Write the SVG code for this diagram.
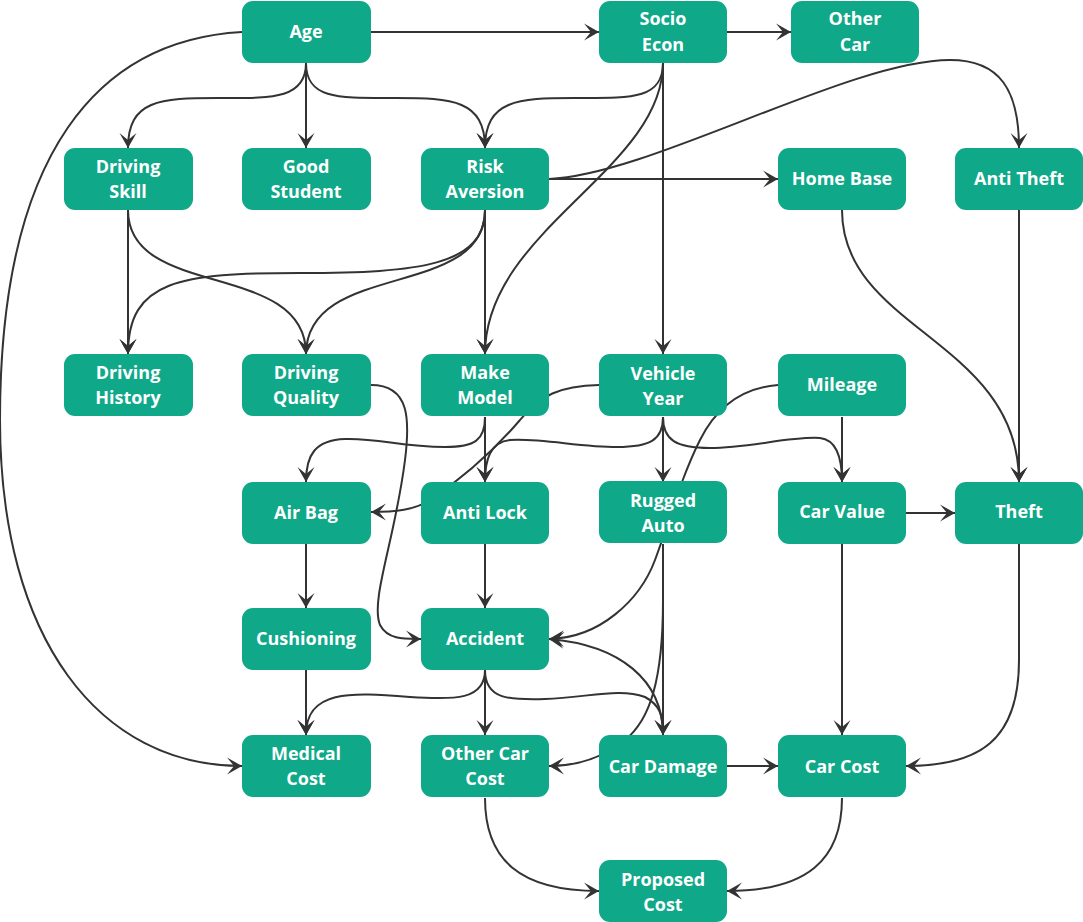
<svg xmlns="http://www.w3.org/2000/svg" width="1083" height="922" viewBox="0 0 1083 922">
<style>
.n rect{fill:#0fa888;}
.n text{fill:#ffffff;font-family:"Open Sans","Liberation Sans",sans-serif;font-weight:bold;font-size:18px;text-anchor:middle;}
.c path{fill:none;stroke:#333333;stroke-width:2;}
</style>
<defs>
<marker id="arr" markerWidth="16" markerHeight="18" refX="15" refY="9" orient="auto" markerUnits="userSpaceOnUse" viewBox="0 0 16 18">
<path d="M0,0.5 L15,9 L0,17.5 L7,9 Z" fill="#333333"/>
</marker>
</defs>
<rect width="1083" height="922" fill="#ffffff"/>
<g id="connectors" class="c" marker-end="url(#arr)">
<path d="M371,32 L599,32" marker-end="url(#arr)"/>
<path d="M727,32 L791,32" marker-end="url(#arr)"/>
<path d="M306,63 C306,100 270,98 218,98 C160,98 128,100 128,148" marker-end="url(#arr)"/>
<path d="M306,63 L306,148" marker-end="url(#arr)"/>
<path d="M306,63 C306,100 340,98 396,98 C452,98 485,100 485,148" marker-end="url(#arr)"/>
<path d="M663,63 C663,100 630,98 574,98 C518,98 485,100 485,148" marker-end="url(#arr)"/>
<path d="M242,32 C100,40 0,150 0,420 C0,640 100,766 242,766" marker-end="url(#arr)"/>
<path d="M663,63 C663,170 485,230 485,354" marker-end="url(#arr)"/>
<path d="M663,63 L663,354" marker-end="url(#arr)"/>
<path d="M549,179 C650,175 850,60 950,60 C1000,60 1019,90 1019,148" marker-end="url(#arr)"/>
<path d="M549,179 L778,179" marker-end="url(#arr)"/>
<path d="M485,210 L485,354" marker-end="url(#arr)"/>
<path d="M485,210 C485,265 420,273 300,273 C180,273 128,280 128,354" marker-end="url(#arr)"/>
<path d="M485,210 C485,300 307,260 306,354" marker-end="url(#arr)"/>
<path d="M128,210 L128,354" marker-end="url(#arr)"/>
<path d="M128,210 C128,300 306,260 306,354" marker-end="url(#arr)"/>
<path d="M842,210 C842,330 1019,340 1019,482" marker-end="url(#arr)"/>
<path d="M1019,210 L1019,482" marker-end="url(#arr)"/>
<path d="M371,385 C410,385 410,420 405,460 C395,540 370,600 380,625 C388,640 405,639 421,639" marker-end="url(#arr)"/>
<path d="M485,417 C485,440 475,447 445,447 C400,447 380,438 345,439 C315,440 306,455 306,482" marker-end="url(#arr)"/>
<path d="M485,417 L485,482" marker-end="url(#arr)"/>
<path d="M663,417 C663,440 650,447 617,447 C580,447 540,438 510,440 C490,442 485,460 485,482" marker-end="url(#arr)"/>
<path d="M663,417 L663,482" marker-end="url(#arr)"/>
<path d="M663,417 C663,440 676,448 710,448 C750,448 790,436 820,438 C838,440 842,460 842,482" marker-end="url(#arr)"/>
<path d="M599,385 C560,386 540,395 520,420 C490,455 460,480 430,500 C415,510 395,512 371,512" marker-end="url(#arr)"/>
<path d="M778,385 C740,388 715,410 700,440 C680,480 670,520 655,560 C640,600 600,638 549,639" marker-end="url(#arr)"/>
<path d="M842,417 L842,482" marker-end="url(#arr)"/>
<path d="M906,513 L955,513" marker-end="url(#arr)"/>
<path d="M306,544 L306,608" marker-end="url(#arr)"/>
<path d="M485,544 L485,608" marker-end="url(#arr)"/>
<path d="M663,544 L663,735" marker-end="url(#arr)"/>
<path d="M663,544 L663,600 C663,680 650,720 625,740 C605,756 580,766 549,766" marker-end="url(#arr)"/>
<path d="M663,735 C663,680 620,645 549,639" marker-end="url(#arr)"/>
<path d="M842,544 L842,735" marker-end="url(#arr)"/>
<path d="M1019,544 L1019,660 C1019,740 980,766 906,766" marker-end="url(#arr)"/>
<path d="M306,670 L306,735" marker-end="url(#arr)"/>
<path d="M485,670 L485,735" marker-end="url(#arr)"/>
<path d="M485,670 C485,700 455,700 410,697 C350,692 306,690 306,735" marker-end="url(#arr)"/>
<path d="M485,670 C485,700 510,700 545,699 C590,697 620,688 645,697 C660,705 663,715 663,735" marker-end="url(#arr)"/>
<path d="M727,766 L778,766" marker-end="url(#arr)"/>
<path d="M485,798 C485,860 520,891 599,891" marker-end="url(#arr)"/>
<path d="M842,798 C842,860 807,891 727,891" marker-end="url(#arr)"/>
</g>
<g id="age" class="n"><rect x="242" y="1" width="129" height="62" rx="11"/><text x="306" y="38">Age</text></g>
<g id="socio-econ" class="n"><rect x="599" y="1" width="128" height="62" rx="11"/><text x="663" y="25">Socio</text><text x="663" y="51">Econ</text></g>
<g id="other-car" class="n"><rect x="791" y="1" width="128" height="62" rx="11"/><text x="855" y="25">Other</text><text x="855" y="51">Car</text></g>
<g id="driving-skill" class="n"><rect x="64" y="148" width="129" height="62" rx="11"/><text x="128" y="173">Driving</text><text x="128" y="198">Skill</text></g>
<g id="good-student" class="n"><rect x="242" y="148" width="129" height="62" rx="11"/><text x="306" y="173">Good</text><text x="306" y="198">Student</text></g>
<g id="risk-aversion" class="n"><rect x="421" y="148" width="128" height="62" rx="11"/><text x="485" y="173">Risk</text><text x="485" y="198">Aversion</text></g>
<g id="home-base" class="n"><rect x="778" y="148" width="128" height="62" rx="11"/><text x="842" y="185">Home Base</text></g>
<g id="anti-theft" class="n"><rect x="955" y="148" width="128" height="62" rx="11"/><text x="1019" y="185">Anti Theft</text></g>
<g id="driving-history" class="n"><rect x="64" y="354" width="129" height="62" rx="11"/><text x="128" y="379">Driving</text><text x="128" y="404">History</text></g>
<g id="driving-quality" class="n"><rect x="242" y="354" width="129" height="62" rx="11"/><text x="306" y="379">Driving</text><text x="306" y="404">Quality</text></g>
<g id="make-model" class="n"><rect x="421" y="354" width="128" height="62" rx="11"/><text x="485" y="379">Make</text><text x="485" y="404">Model</text></g>
<g id="vehicle-year" class="n"><rect x="599" y="354" width="128" height="62" rx="11"/><text x="663" y="380">Vehicle</text><text x="663" y="405">Year</text></g>
<g id="mileage" class="n"><rect x="778" y="354" width="128" height="62" rx="11"/><text x="842" y="391">Mileage</text></g>
<g id="air-bag" class="n"><rect x="242" y="482" width="129" height="62" rx="11"/><text x="306" y="519">Air Bag</text></g>
<g id="anti-lock" class="n"><rect x="421" y="482" width="128" height="62" rx="11"/><text x="485" y="519">Anti Lock</text></g>
<g id="rugged-auto" class="n"><rect x="599" y="481" width="128" height="62" rx="11"/><text x="663" y="507">Rugged</text><text x="663" y="532">Auto</text></g>
<g id="car-value" class="n"><rect x="778" y="482" width="128" height="62" rx="11"/><text x="842" y="518">Car Value</text></g>
<g id="theft" class="n"><rect x="955" y="482" width="128" height="62" rx="11"/><text x="1019" y="518">Theft</text></g>
<g id="cushioning" class="n"><rect x="242" y="608" width="129" height="62" rx="11"/><text x="306" y="645">Cushioning</text></g>
<g id="accident" class="n"><rect x="421" y="608" width="128" height="62" rx="11"/><text x="485" y="645">Accident</text></g>
<g id="medical-cost" class="n"><rect x="242" y="735" width="129" height="62" rx="11"/><text x="306" y="760">Medical</text><text x="306" y="785">Cost</text></g>
<g id="other-car-cost" class="n"><rect x="421" y="735" width="128" height="62" rx="11"/><text x="485" y="760">Other Car</text><text x="485" y="785">Cost</text></g>
<g id="car-damage" class="n"><rect x="599" y="735" width="128" height="62" rx="11"/><text x="663" y="773">Car Damage</text></g>
<g id="car-cost" class="n"><rect x="778" y="735" width="128" height="62" rx="11"/><text x="842" y="773">Car Cost</text></g>
<g id="proposed-cost" class="n"><rect x="599" y="860" width="128" height="62" rx="11"/><text x="663" y="886">Proposed</text><text x="663" y="911">Cost</text></g>
</svg>
